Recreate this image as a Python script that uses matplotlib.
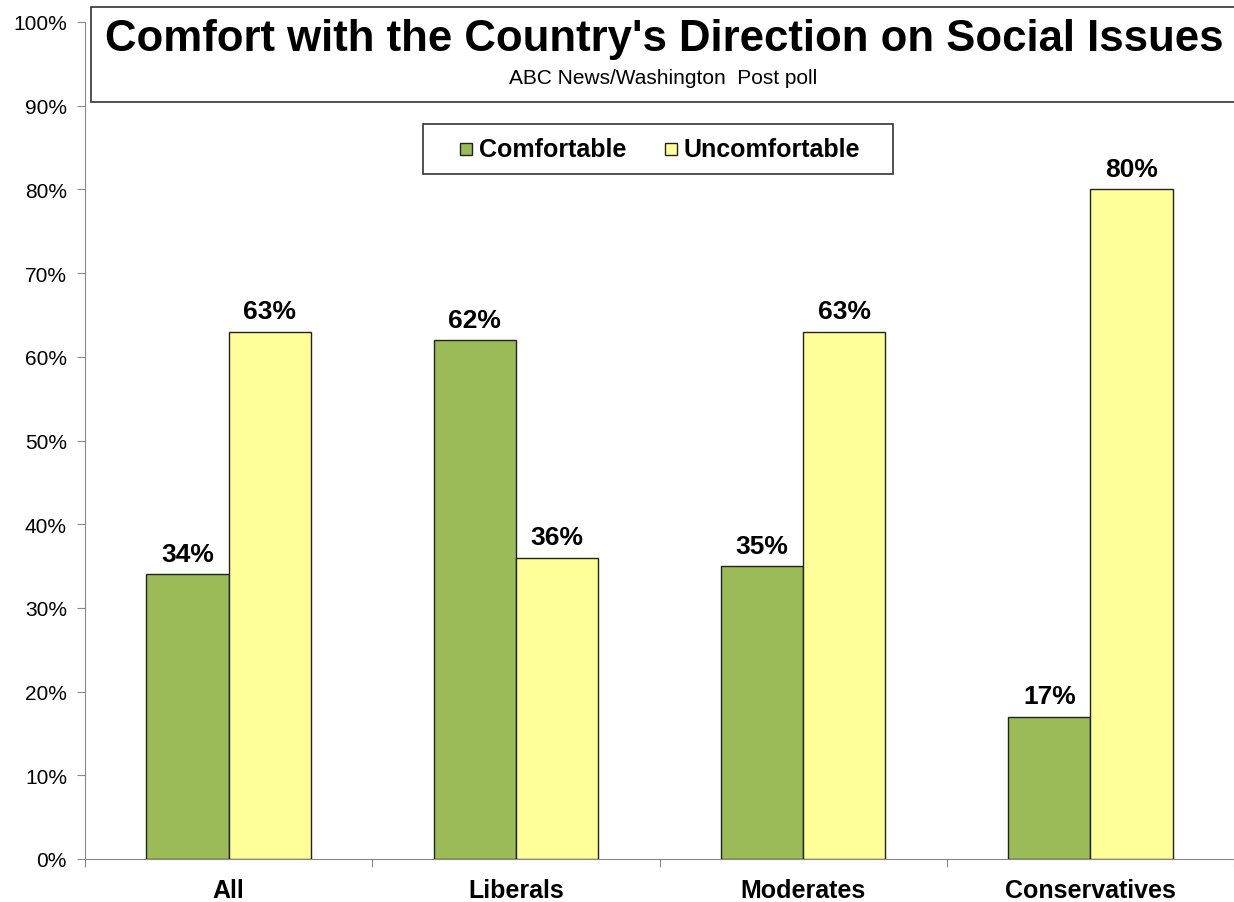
import matplotlib
matplotlib.use('Agg')
import matplotlib.pyplot as plt
import matplotlib.patches as mpatches
from matplotlib.ticker import FuncFormatter, MultipleLocator
import numpy as np

plt.rcParams['font.family'] = ['Liberation Sans', 'DejaVu Sans']

# Data
categories = ['All', 'Liberals', 'Moderates', 'Conservatives']
series_names = ['Comfortable', 'Uncomfortable']
comfortable = [34, 62, 35, 17]
uncomfortable = [63, 36, 63, 80]

GREEN = '#9BBB59'
YELLOW = '#FFFF99'
EDGE = '#222222'

W, H = 1234, 903
fig = plt.figure(figsize=(W / 100, H / 100), dpi=100)
fig.patch.set_facecolor('white')


def fx(px):
    return px / W


def fy(py):
    # pixel row from top -> figure fraction
    return (H - py) / H


# axes: left spine at x=85, 0% at y=860, 100% at y=23
ax = fig.add_axes([fx(85), fy(860), (W - 85) / W, (860 - 23) / H])

x = np.arange(len(categories))
width = 0.286
b1 = ax.bar(x - width / 2, comfortable, width, color=GREEN, edgecolor=EDGE,
            linewidth=1, zorder=3)
b2 = ax.bar(x + width / 2, uncomfortable, width, color=YELLOW, edgecolor=EDGE,
            linewidth=1, zorder=3)

for bars, vals in ((b1, comfortable), (b2, uncomfortable)):
    for bar, v in zip(bars, vals):
        ax.text(bar.get_x() + bar.get_width() / 2, v + 1.0, f'{v}%',
                ha='center', va='bottom', fontsize=19, fontweight='bold')

ax.set_ylim(0, 100)
ax.set_xlim(-0.5, -0.5 + (W - 85) / 289)
ax.yaxis.set_major_locator(MultipleLocator(10))
ax.yaxis.set_major_formatter(FuncFormatter(lambda v, p: f'{v:.0f}%'))
ax.tick_params(axis='y', labelsize=15, length=6, color='#888888', pad=7)

# category boundaries as ticks, labels at centres
ax.set_xticks(np.arange(-0.5, 4.0, 1.0))
ax.set_xticklabels([])
ax.set_xticks(x, minor=True)
ax.set_xticklabels(categories, minor=True, fontsize=18, fontweight='bold')
ax.tick_params(axis='x', which='major', length=6, color='#888888')
ax.tick_params(axis='x', which='minor', length=0, pad=14)

for s in ('top', 'right'):
    ax.spines[s].set_visible(False)
ax.spines['left'].set_color('#888888')
ax.spines['bottom'].set_color('#888888')

# title box
fig.patches.append(mpatches.Rectangle((fx(91), fy(103)), (W - 88) / W, 95 / H,
                                      transform=fig.transFigure, facecolor='white',
                                      edgecolor='#333333', linewidth=1.2, zorder=5))
fig.text(fx(664), fy(40), "Comfort with the Country's Direction on Social Issues",
         ha='center', va='center', fontsize=31.5, fontweight='bold', zorder=6)
fig.text(fx(663), fy(78), 'ABC News/Washington  Post poll',
         ha='center', va='center', fontsize=15, zorder=6)

# legend box (drawn by hand to get the wide Excel-style padding)
fig.patches.append(mpatches.Rectangle((fx(423), fy(175)), (893 - 423) / W, 50 / H,
                                      transform=fig.transFigure, facecolor='white',
                                      edgecolor='#333333', linewidth=1.2, zorder=5))
for name, col, mx in zip(series_names, [GREEN, YELLOW], [460, 665]):
    fig.patches.append(mpatches.Rectangle((fx(mx), fy(156)), 12 / W, 12 / H,
                                          transform=fig.transFigure, facecolor=col,
                                          edgecolor=EDGE, linewidth=1, zorder=6))
    fig.text(fx(mx + 19), fy(150), name, ha='left', va='center',
             fontsize=18, fontweight='bold', zorder=6)

plt.savefig('out.png', dpi=100, facecolor='white')
